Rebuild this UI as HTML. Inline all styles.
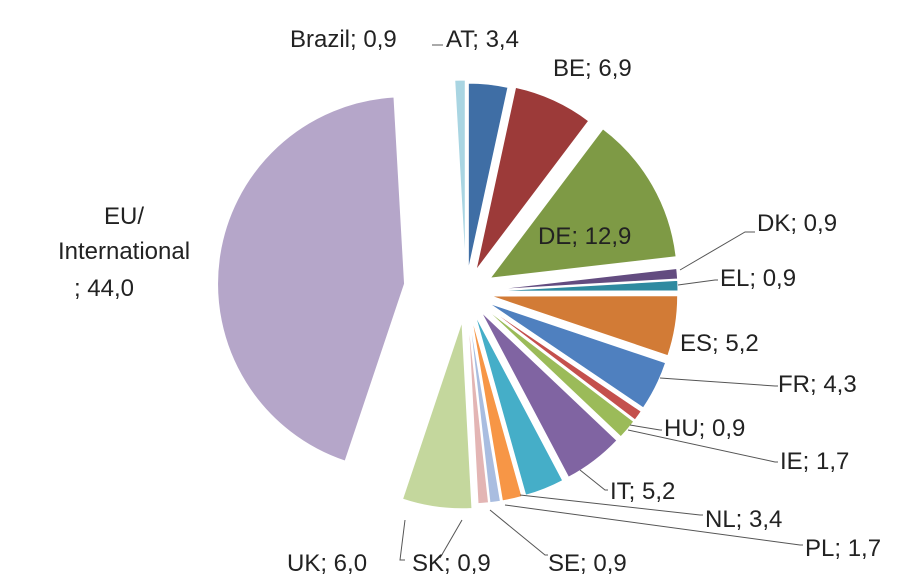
<!DOCTYPE html>
<html><head><meta charset="utf-8"><style>
body{margin:0;background:#fff;width:917px;height:585px;overflow:hidden}
svg{position:absolute;left:0;top:0}
text{font-family:"Liberation Sans",sans-serif;font-size:24px;fill:#222}
</style></head><body>
<svg id="s" width="917" height="585" viewBox="0 0 917 585"></svg>
<script>
var d=[["AT",3.4,"#3f6ea5",22],["BE",6.9,"#9c3a39",24],["DE",12.9,"#7e9a45",28],["DK",0.9,"#634c80",25],["EL",0.9,"#2e8aa0",25],["ES",5.2,"#d27b36",25],["FR",4.3,"#4f80bf",25],["HU",0.9,"#c4504d",25],["IE",1.7,"#9bbb59",25],["IT",5.2,"#8064a2",25],["NL",3.4,"#45aec8",25],["PL",1.7,"#f79646",25],["SE",0.9,"#a9bde0",25],["SK",0.9,"#e3b5b4",25],["UK",6.0,"#c4d79d",30],["EU",44.0,"#b5a6c9",62],["BR",0.9,"#a9d5e2",25]];
var cx=466,cy=292,r=187,tot=100.1,a=0,h="";
function P(an,rr,ox,oy){return [ox+rr*Math.sin(an),oy-rr*Math.cos(an)]}
d.forEach(function(s){var a0=a/tot*2*Math.PI;a+=s[1];var a1=a/tot*2*Math.PI;var m=(a0+a1)/2;
var ox=cx+s[3]*Math.sin(m),oy=cy-s[3]*Math.cos(m);var p0=P(a0,r,ox,oy),p1=P(a1,r,ox,oy);
h+='<path d="M'+ox+' '+oy+'L'+p0[0]+' '+p0[1]+'A'+r+' '+r+' 0 '+((a1-a0)>Math.PI?1:0)+' 1 '+p1[0]+' '+p1[1]+'Z" fill="'+s[2]+'" stroke="#fff" stroke-width="1"/>';});
var L=[[680,270,745,232,755,232],[678,285,715,280,718,280],[660,378,775,386,778,386],[630,425,660,430,662,430],[628,430,775,462,778,462],[580,470,605,490,608,490],[520,495,700,515,703,515],[505,505,800,545,803,545],[490,510,545,555,548,555],[405,520,400,560,405,560],[462,520,440,558,440,558],[432,45,443,45,443,45]];
L.forEach(function(l){h+='<polyline points="'+l[0]+','+l[1]+' '+l[2]+','+l[3]+' '+l[4]+','+l[5]+'" fill="none" stroke="#555" stroke-width="1"/>';});
var T=[[290,47,"Brazil; 0,9"],[446,47,"AT; 3,4"],[553,76,"BE; 6,9"],[538,244,"DE; 12,9"],[757,231,"DK; 0,9"],[720,286,"EL; 0,9"],[680,351,"ES; 5,2"],[778,392,"FR; 4,3"],[664,436,"HU; 0,9"],[780,469,"IE; 1,7"],[610,499,"IT; 5,2"],[705,527,"NL; 3,4"],[805,556,"PL; 1,7"],[548,571,"SE; 0,9"],[287,571,"UK; 6,0"],[412,571,"SK; 0,9"]];
T.forEach(function(t){h+='<text x="'+t[0]+'" y="'+t[1]+'">'+t[2]+'</text>';});
h+='<text x="124" y="224" text-anchor="middle">EU/</text><text x="124" y="259" text-anchor="middle">International</text><text x="104" y="296" text-anchor="middle">; 44,0</text>';
document.getElementById("s").innerHTML=h;
</script>
</body></html>
